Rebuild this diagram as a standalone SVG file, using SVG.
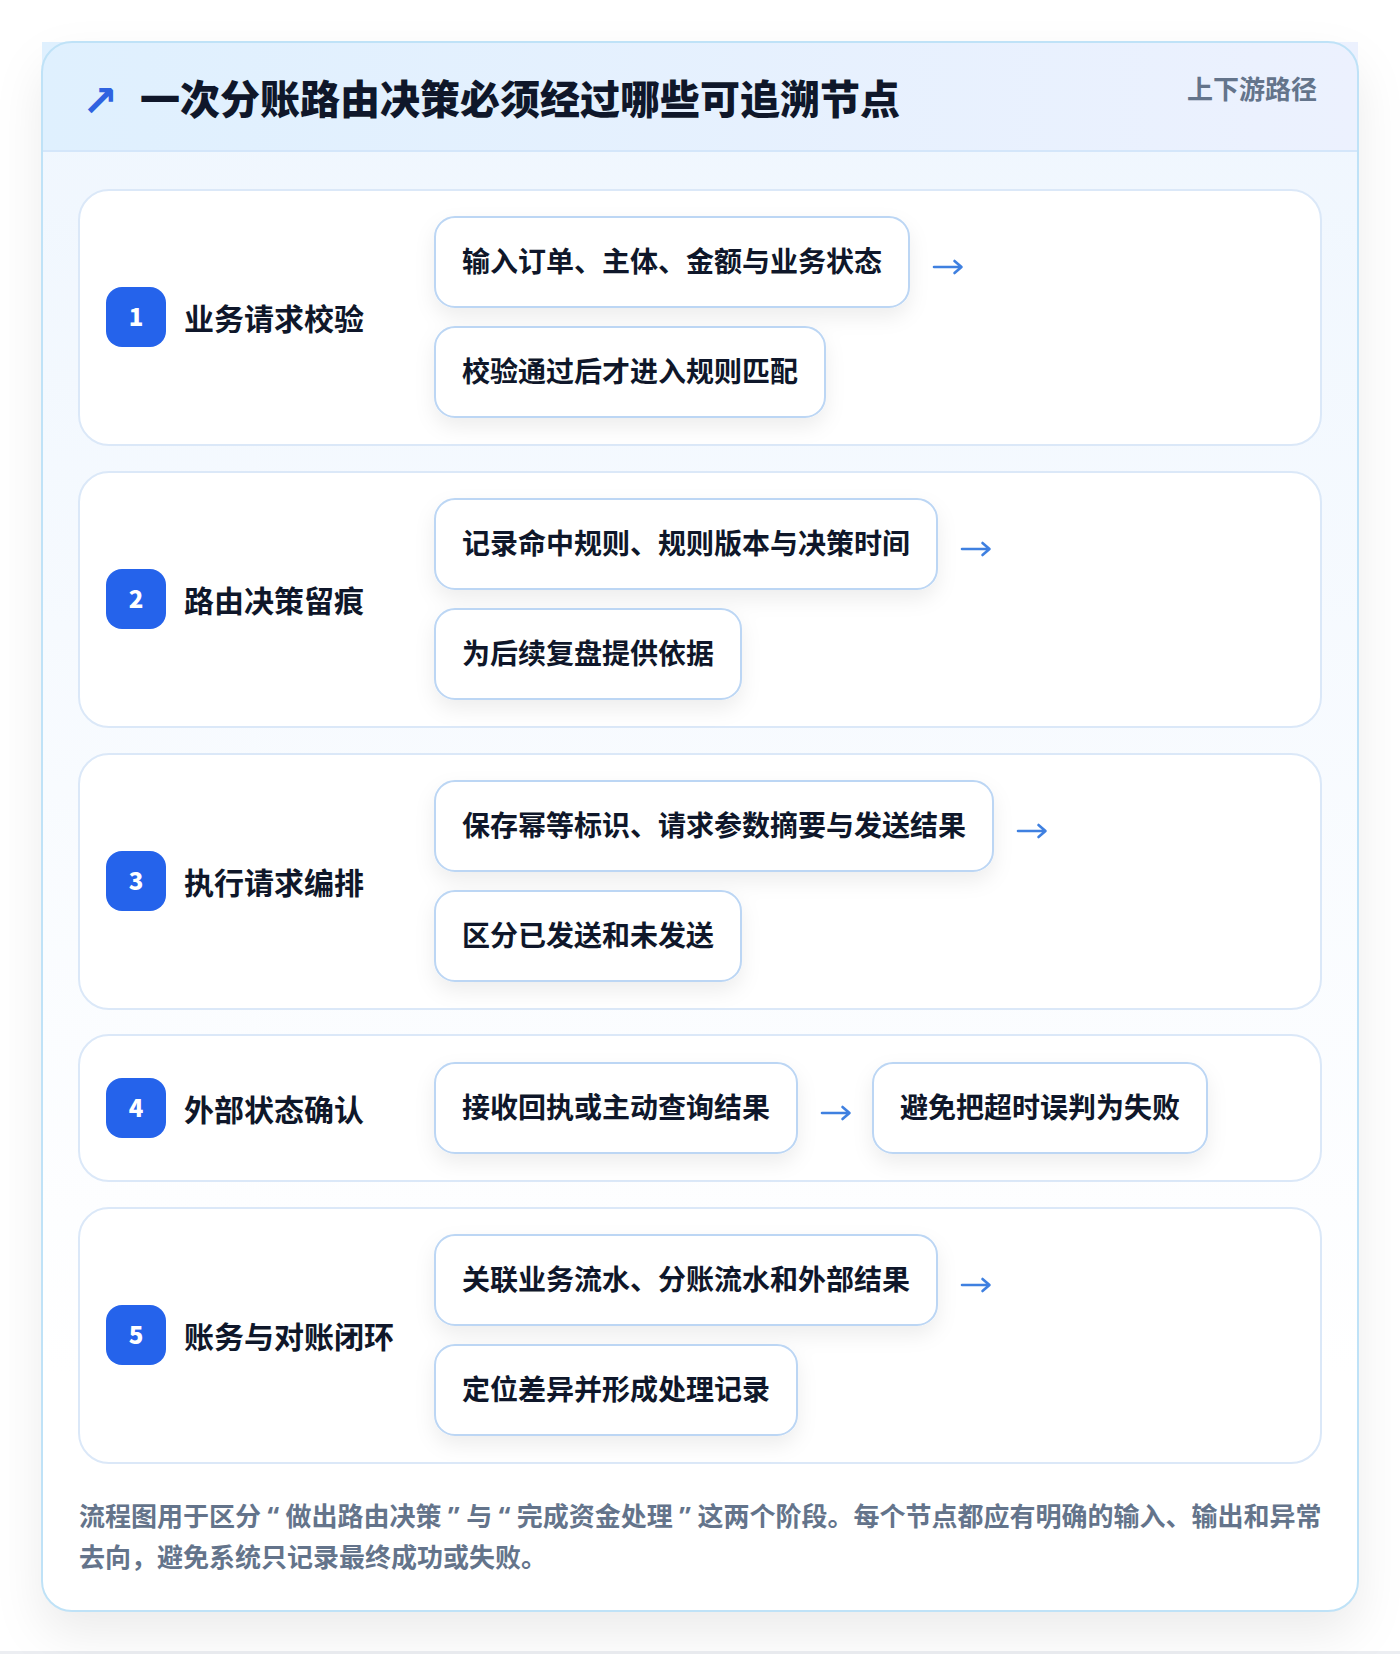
<svg xmlns="http://www.w3.org/2000/svg" width="1400" height="1654" viewBox="0 0 1400 1654">
<defs>
<linearGradient id="hdrGrad" x1="0" y1="0" x2="1" y2="0">
<stop offset="0" stop-color="#dff0fe"/>
<stop offset="1" stop-color="#ecf1fe"/>
</linearGradient>
<linearGradient id="bodyGrad" x1="0" y1="0" x2="0" y2="1">
<stop offset="0" stop-color="#eff6fe"/>
<stop offset="0.85" stop-color="#ffffff"/>
<stop offset="1" stop-color="#ffffff"/>
</linearGradient>
<filter id="cardShadow" x="-10%" y="-10%" width="120%" height="120%">
<feDropShadow dx="0" dy="22" stdDeviation="24" flood-color="#0f172a" flood-opacity="0.08"/>
</filter>
<filter id="boxShadow" x="-20%" y="-30%" width="140%" height="170%">
<feDropShadow dx="0" dy="9" stdDeviation="10" flood-color="#0f172a" flood-opacity="0.07"/>
</filter>
<style>
text{font-family:'Noto Sans CJK SC','Noto Sans',sans-serif;}
.title{font-size:40px;font-weight:800;fill:#0f172a;}
.tag{font-size:26px;font-weight:700;fill:#64748b;}
.row{fill:#ffffff;stroke:#dbe8f8;stroke-width:2;}
.badge{fill:#2563eb;}
.num{font-size:24px;font-weight:800;fill:#ffffff;text-anchor:middle;}
.label{font-size:30px;font-weight:700;fill:#0f172a;}
.box{fill:#ffffff;stroke:#bcd6f4;stroke-width:2;}
.boxt{font-size:28px;font-weight:700;fill:#0f172a;}
.shaft{stroke:#3f80e0;stroke-width:2.6;fill:none;stroke-linecap:round;stroke-linejoin:round;}
.foot{font-size:26px;font-weight:700;fill:#64748b;}
.q{font-family:'Noto Sans','DejaVu Sans',sans-serif;}
</style>
<g id="arrowGlyph">
<path class="shaft" d="M1 0 H28 M21.5 -6 L28.5 0 L21.5 6"/>
</g>
</defs>
<rect x="0" y="0" width="1400" height="1654" fill="#ffffff"/>
<rect x="0" y="1651" width="1400" height="3" fill="#eceef2"/>
<g id="card">
<rect x="42" y="42" width="1316" height="1569" rx="30" fill="url(#bodyGrad)" filter="url(#cardShadow)"/>
<rect x="42" y="42" width="1316" height="109" fill="url(#hdrGrad)"/>
<line x1="42" y1="151" x2="1358" y2="151" stroke="#d4e6fa" stroke-width="2"/>
<rect x="42" y="42" width="1316" height="1569" rx="30" fill="none" stroke="#bfe2f7" stroke-width="2"/>
</g>
<g id="header">
<text x="82" y="116" font-size="43" font-weight="700" fill="#2f63e0" style="font-family:'DejaVu Sans',sans-serif">↗</text>
<text class="title" x="140" y="114">一次分账路由决策必须经过哪些可追溯节点</text>
<text class="tag" x="1317" y="99" text-anchor="end">上下游路径</text>
</g>
<g id="node-1">
<rect class="row" x="79" y="190" width="1242" height="255" rx="30"/>
<rect class="badge" x="106" y="287" width="60" height="60" rx="16"/>
<text class="num" x="136" y="326">1</text>
<text class="label" x="184" y="330">业务请求校验</text>
<g filter="url(#boxShadow)">
<rect class="box" x="435" y="217" width="474" height="90" rx="20"/>
<rect class="box" x="435" y="327" width="390" height="90" rx="20"/>
</g>
<text class="boxt" x="462" y="272">输入订单、主体、金额与业务状态</text>
<text class="boxt" x="462" y="382">校验通过后才进入规则匹配</text>
</g>
<g id="node-2">
<rect class="row" x="79" y="472" width="1242" height="255" rx="30"/>
<rect class="badge" x="106" y="569" width="60" height="60" rx="16"/>
<text class="num" x="136" y="608">2</text>
<text class="label" x="184" y="612">路由决策留痕</text>
<g filter="url(#boxShadow)">
<rect class="box" x="435" y="499" width="502" height="90" rx="20"/>
<rect class="box" x="435" y="609" width="306" height="90" rx="20"/>
</g>
<text class="boxt" x="462" y="554">记录命中规则、规则版本与决策时间</text>
<text class="boxt" x="462" y="664">为后续复盘提供依据</text>
</g>
<g id="node-3">
<rect class="row" x="79" y="754" width="1242" height="255" rx="30"/>
<rect class="badge" x="106" y="851" width="60" height="60" rx="16"/>
<text class="num" x="136" y="890">3</text>
<text class="label" x="184" y="894">执行请求编排</text>
<g filter="url(#boxShadow)">
<rect class="box" x="435" y="781" width="558" height="90" rx="20"/>
<rect class="box" x="435" y="891" width="306" height="90" rx="20"/>
</g>
<text class="boxt" x="462" y="836">保存幂等标识、请求参数摘要与发送结果</text>
<text class="boxt" x="462" y="946">区分已发送和未发送</text>
</g>
<g id="node-4">
<rect class="row" x="79" y="1035" width="1242" height="146" rx="30"/>
<rect class="badge" x="106" y="1078" width="60" height="60" rx="16"/>
<text class="num" x="136" y="1117">4</text>
<text class="label" x="184" y="1121">外部状态确认</text>
<g filter="url(#boxShadow)">
<rect class="box" x="435" y="1063" width="362" height="90" rx="20"/>
<rect class="box" x="873" y="1063" width="334" height="90" rx="20"/>
</g>
<text class="boxt" x="462" y="1118">接收回执或主动查询结果</text>
<text class="boxt" x="900" y="1118">避免把超时误判为失败</text>
</g>
<g id="node-5">
<rect class="row" x="79" y="1208" width="1242" height="255" rx="30"/>
<rect class="badge" x="106" y="1305" width="60" height="60" rx="16"/>
<text class="num" x="136" y="1344">5</text>
<text class="label" x="184" y="1348">账务与对账闭环</text>
<g filter="url(#boxShadow)">
<rect class="box" x="435" y="1235" width="502" height="90" rx="20"/>
<rect class="box" x="435" y="1345" width="362" height="90" rx="20"/>
</g>
<text class="boxt" x="462" y="1290">关联业务流水、分账流水和外部结果</text>
<text class="boxt" x="462" y="1400">定位差异并形成处理记录</text>
</g>
<g id="connectors">
<use href="#arrowGlyph" x="933" y="267"/>
<use href="#arrowGlyph" x="961" y="549"/>
<use href="#arrowGlyph" x="1017" y="831"/>
<use href="#arrowGlyph" x="821" y="1113"/>
<use href="#arrowGlyph" x="961" y="1285"/>
</g>
<g id="footer">
<text class="foot" x="79" y="1526">流程图用于区分<tspan class="q" dx="6.5">“</tspan><tspan dx="6.5">做出路由决策</tspan><tspan class="q" dx="6.5">”</tspan><tspan dx="6.5">与</tspan><tspan class="q" dx="6.5">“</tspan><tspan dx="6.5">完成资金处理</tspan><tspan class="q" dx="6.5">”</tspan><tspan dx="6.5">这两个阶段。每个节点都应有明确的输入、输出和异常</tspan></text>
<text class="foot" x="79" y="1567">去向，避免系统只记录最终成功或失败。</text>
</g>
</svg>
